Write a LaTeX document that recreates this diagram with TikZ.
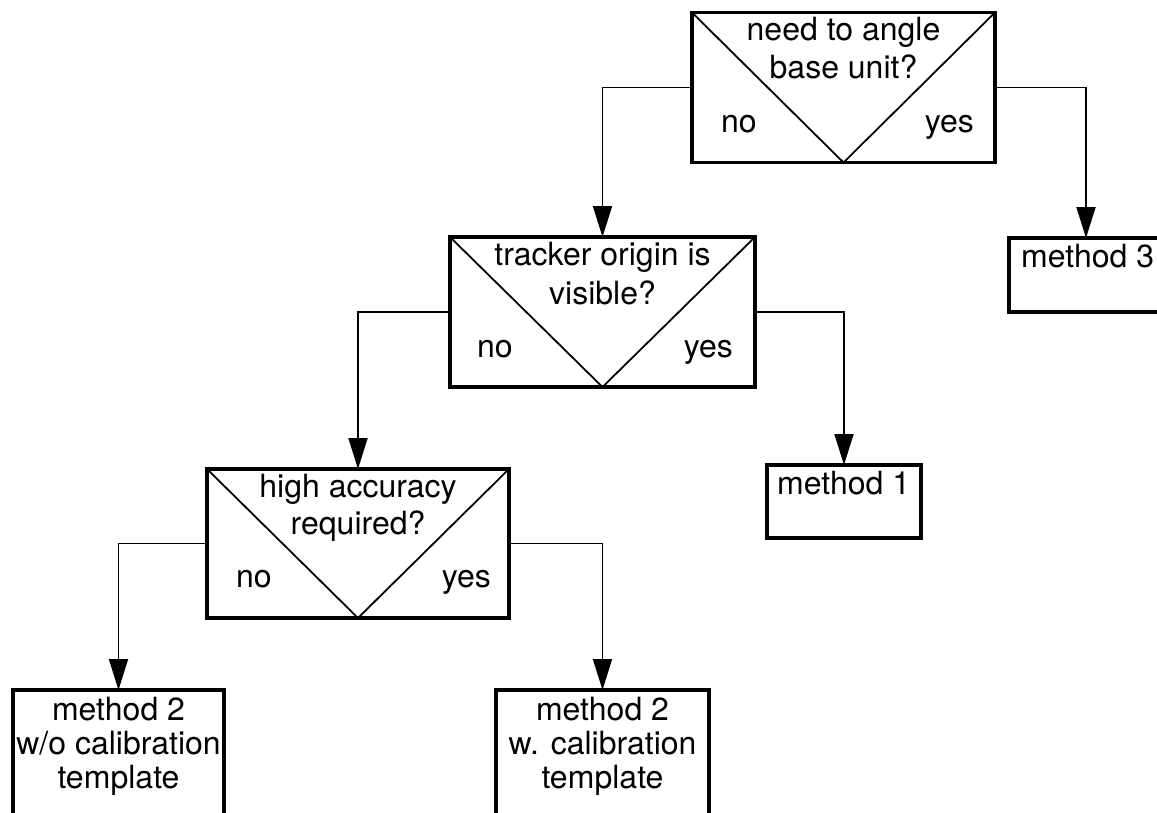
\documentclass[tikz,border=0pt]{standalone}
\usepackage{fontspec}
\setmainfont{TeX Gyre Heros}
\usetikzlibrary{arrows.meta}
\begin{document}
\begin{tikzpicture}[x=1pt,y=-1pt,
  box/.style={draw, line width=3.6pt, outer sep=0pt, inner sep=0pt},
  diag/.style={line width=1.8pt},
  conn/.style={line width=1.8pt, -{Triangle[length=31pt,width=19pt]}},
  txt/.style={font=\fontsize{32}{38}\selectfont, inner sep=0pt},
]
\useasboundingbox (0,0) rectangle (1157,812);
\clip (0,0) rectangle (1157,812);
% boxes
\node[box, minimum width=303pt, minimum height=150pt] (q1) at (843.5,87.5) {};
\node[box, minimum width=305pt, minimum height=150pt] (q2) at (602.5,312) {};
\node[box, minimum width=302pt, minimum height=149pt] (q3) at (358,543.5) {};
\node[box, minimum width=154pt, minimum height=74pt] (m3) at (1086,275) {};
\node[box, minimum width=154pt, minimum height=73pt] (m1) at (844,501.5) {};
\node[box, minimum width=211pt, minimum height=150pt] (m2a) at (118.5,765) {};
\node[box, minimum width=213pt, minimum height=150pt] (m2b) at (602.5,765) {};
% diagonals
\draw[diag] (q1.north west) -- (q1.south) -- (q1.north east);
\draw[diag] (q2.north west) -- (q2.south) -- (q2.north east);
\draw[diag] (q3.north west) -- (q3.south) -- (q3.north east);
% texts
\node[txt, anchor=base] (q1a) at (843.5,40.5) {need to angle};
\node[txt, anchor=base] (q1b) at (843.5,78.5) {base unit?};
\node[txt, anchor=base west] (q1n) at (721,132) {no};
\node[txt, anchor=base east] (q1y) at (974,132) {yes};
\node[txt, anchor=base] (q2a) at (602.5,265) {tracker origin is};
\node[txt, anchor=base] (q2b) at (602.5,304) {visible?};
\node[txt, anchor=base west] (q2n) at (477,357) {no};
\node[txt, anchor=base east] (q2y) at (733,357) {yes};
\node[txt, anchor=base] (q3a) at (358,497) {high accuracy};
\node[txt, anchor=base] (q3b) at (358,534) {required?};
\node[txt, anchor=base west] (q3n) at (236,587) {no};
\node[txt, anchor=base east] (q3y) at (491,587) {yes};
\node[txt, anchor=base west] (m3t) at (1021,267) {method 3};
\node[txt, anchor=base west] (m1t) at (777,494) {method 1};
\node[txt, anchor=base] (m2a1) at (118.5,720) {method 2};
\node[txt, anchor=base] (m2a2) at (118.5,754) {w/o calibration};
\node[txt, anchor=base] (m2a3) at (118.5,788) {template};
\node[txt, anchor=base] (m2b1) at (602.5,720) {method 2};
\node[txt, anchor=base] (m2b2) at (602.5,754) {w. calibration};
\node[txt, anchor=base] (m2b3) at (602.5,788) {template};
% connectors
\draw[conn] (q1.west) -| (q2.north);
\draw[conn] (q1.east) -| (m3.north);
\draw[conn] (q2.west) -| (q3.north);
\draw[conn] (q2.east) -| (m1.north);
\draw[conn] (q3.west) -| (m2a.north);
\draw[conn] (q3.east) -| (m2b.north);
\end{tikzpicture}
\end{document}
